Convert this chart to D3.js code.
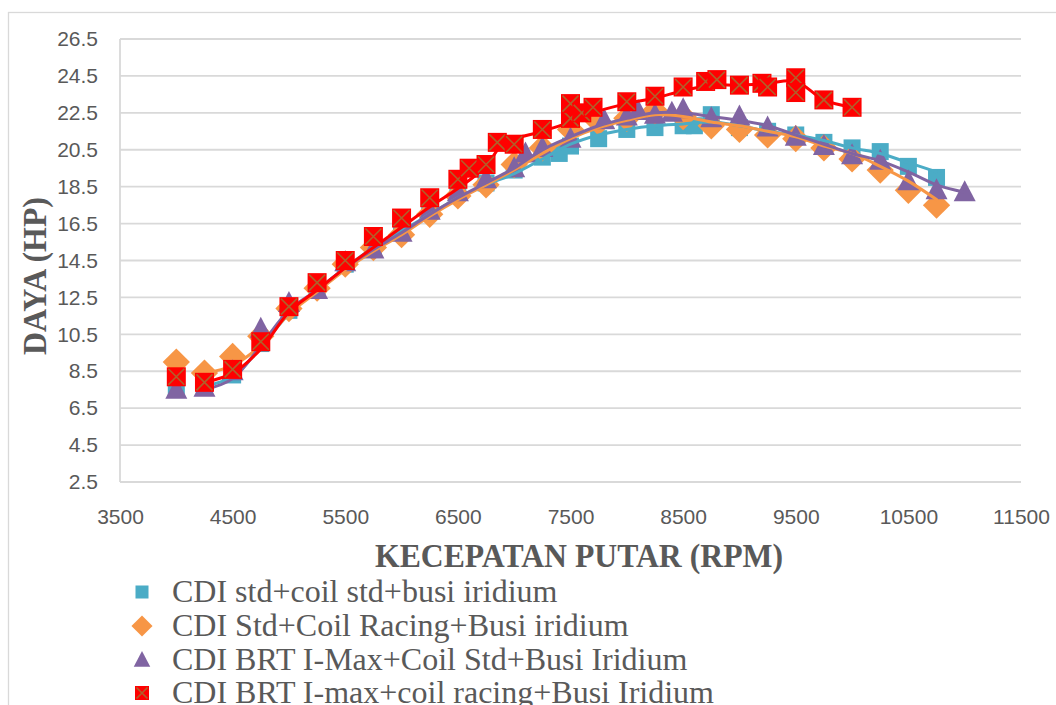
<!DOCTYPE html>
<html>
<head>
<meta charset="utf-8">
<script src="https://cdn.jsdelivr.net/npm/d3@7"></script>
<style>
  html, body { margin: 0; padding: 0; background: #ffffff; }
  svg { display: block; }
</style>
</head>
<body>
<svg id="chart" width="1056" height="705"></svg>
<script>
// Axis ticks
const xTicks = [3500, 4500, 5500, 6500, 7500, 8500, 9500, 10500, 11500];
const yTicks = [2.5, 4.5, 6.5, 8.5, 10.5, 12.5, 14.5, 16.5, 18.5, 20.5, 22.5, 24.5, 26.5];

// Series names
const seriesNames = [
  "CDI std+coil std+busi iridium",
  "CDI Std+Coil Racing+Busi iridium",
  "CDI BRT I-Max+Coil Std+Busi Iridium",
  "CDI BRT I-max+coil racing+Busi Iridium"
];

// Measured points (rpm, HP)
const rpmStd = [4000,4250,4500,4750,5000,5250,5500,5750,6000,6250,6500,6750,7000,7250,7400,7500,7750,8000,8250,8500,8600,8750,9000,9250,9500,9750,10000,10250,10500,10750];
const hpStd  = [7.6,7.8,8.3,10.0,11.8,13.1,14.3,15.3,16.1,17.2,18.2,18.7,19.4,20.1,20.3,20.7,21.1,21.6,21.7,21.8,21.8,22.4,21.7,21.5,21.3,20.9,20.6,20.4,19.6,19.0];

const rpmCoilRacing = [4000,4250,4500,4750,5000,5250,5500,5750,6000,6250,6500,6750,7000,7250,7500,7750,8000,8250,8500,8750,9000,9250,9500,9750,10000,10250,10500,10750];
const hpCoilRacing  = [9.0,8.4,9.3,10.4,11.9,13.0,14.3,15.2,15.9,17.0,18.0,18.6,19.7,20.6,21.6,22.0,22.2,22.6,22.3,21.8,21.6,21.3,21.1,20.6,20.0,19.4,18.3,17.5];

const rpmBrt = [4000,4250,4500,4750,5000,5250,5500,5750,6000,6250,6500,6750,7000,7100,7250,7500,7800,8000,8100,8250,8400,8500,8750,9000,9250,9500,9750,10000,10250,10500,10750,11000];
const hpBrt  = [7.5,7.6,8.5,10.8,12.2,12.9,14.4,15.1,16.0,17.2,18.2,18.9,19.5,20.3,20.6,21.1,22.1,22.3,22.6,22.4,22.5,22.7,22.2,22.3,21.7,21.2,20.7,20.2,19.9,18.8,18.3,18.2];

const rpmBrtRacing = [4000,4250,4500,4750,5000,5250,5500,5750,6000,6250,6500,6600,6750,6850,7000,7250,7500,7500,7600,7700,8000,8250,8500,8700,8800,9000,9200,9250,9500,9500,9750,10000];
const hpBrtRacing  = [8.2,7.9,8.6,10.1,12.0,13.3,14.5,15.8,16.8,17.9,18.9,19.5,19.7,20.9,20.8,21.6,22.2,23.0,22.5,22.8,23.1,23.4,23.9,24.2,24.3,24.0,24.1,23.9,24.4,23.6,23.2,22.8];

// Smoothed trend lines (rpm, HP)
const rpmStdLine = [4250,4500,4750,5000,5250,5500,5750,6000,6250,6500,6750,7000,7250,7500,7750,8000,8250,8500,8750,9000,9250,9500,9750,10000,10250,10500,10750];
const hpStdLine  = [7.7,8.2,9.8,11.6,12.9,14.1,15.2,16.1,17.0,17.9,18.6,19.2,20.0,20.8,21.3,21.6,21.8,21.9,22.0,21.8,21.5,21.3,21.0,20.6,20.3,19.8,19.3];

const rpmCoilRacingLine = [4250,4500,4750,5000,5250,5500,5750,6000,6250,6500,6750,7000,7250,7500,7750,8000,8250,8500,8750,9000,9250,9500,9750,10000,10250,10500,10750];
const hpCoilRacingLine  = [8.4,8.8,9.9,11.6,12.8,14.0,15.0,15.9,16.9,17.8,18.6,19.4,20.3,21.1,21.7,22.1,22.4,22.3,22.0,21.8,21.5,21.2,20.7,20.3,19.6,18.8,17.8];

const rpmBrtLine = [4250,4500,4750,5000,5250,5500,5750,6000,6250,6500,6750,7000,7250,7500,7750,8000,8250,8500,8750,9000,9250,9500,9750,10000,10250,10500,10750,11000];
const hpBrtLine  = [7.5,8.1,9.9,11.8,12.9,14.1,15.1,16.0,17.0,17.9,18.7,19.5,20.5,21.2,21.8,22.2,22.5,22.5,22.3,22.1,21.8,21.3,20.8,20.3,19.9,19.3,18.6,18.2];

const rpmBrtRacingLine = [4250,4500,4750,5000,5250,5500,5750,6000,6250,6500,6750,6900,7250,7500,7750,8000,8250,8500,8750,9000,9250,9500,9750,10000];
const hpBrtRacingLine  = [7.9,8.4,9.7,11.7,12.9,14.1,15.2,16.3,17.4,18.4,19.6,20.8,21.5,22.0,22.6,23.0,23.3,23.7,24.0,24.0,24.1,24.2,23.2,22.8];

const colors = ["#4bacc6", "#f79646", "#8064a2", "#ff0000"];
const crossColor = "#b0602a";
const textColor = "#595959";
const gridColor = "#d9d9d9";

const zip = (a, b) => a.map((v, i) => ({ x: v, y: b[i] }));

const series = [
  { pts: zip(rpmStd, hpStd), line: zip(rpmStdLine, hpStdLine), shape: "square" },
  { pts: zip(rpmCoilRacing, hpCoilRacing), line: zip(rpmCoilRacingLine, hpCoilRacingLine), shape: "diamond" },
  { pts: zip(rpmBrt, hpBrt), line: zip(rpmBrtLine, hpBrtLine), shape: "triangle" },
  { pts: zip(rpmBrtRacing, hpBrtRacing), line: zip(rpmBrtRacingLine, hpBrtRacingLine), shape: "xsquare" }
];

const svg = d3.select("#chart");

// Outer chart frame
svg.append("rect")
  .attr("x", 8.5).attr("y", 12.5)
  .attr("width", 1100).attr("height", 720)
  .attr("fill", "none").attr("stroke", gridColor).attr("stroke-width", 1.3);

const x = d3.scaleLinear().domain([3500, 11500]).range([120, 1021]);
const y = d3.scaleLinear().domain([2.5, 26.5]).range([482, 39]);

// Horizontal gridlines
svg.append("g").selectAll("line")
  .data(yTicks)
  .join("line")
  .attr("x1", x(3500)).attr("x2", x(11500))
  .attr("y1", d => y(d)).attr("y2", d => y(d))
  .attr("stroke", gridColor).attr("stroke-width", 1.8);

// Left axis line
svg.append("line")
  .attr("x1", x(3500)).attr("x2", x(3500))
  .attr("y1", y(26.5)).attr("y2", y(2.5))
  .attr("stroke", gridColor).attr("stroke-width", 1.8);

const tickFont = "'Liberation Sans', Arial, sans-serif";

// Y tick labels
const yAxis = d3.axisLeft(y).tickValues(yTicks).tickFormat(d3.format(".1f")).tickSize(0).tickPadding(22);
const gy = svg.append("g").attr("transform", `translate(${x(3500)},0)`).call(yAxis);
gy.select(".domain").remove();
gy.selectAll("text")
  .attr("fill", textColor)
  .style("font-family", tickFont)
  .style("font-size", "21px");

// X tick labels
const xAxis = d3.axisBottom(x).tickValues(xTicks).tickFormat(d3.format("d")).tickSize(0).tickPadding(27);
const gx = svg.append("g").attr("transform", `translate(0,${y(2.5)})`).call(xAxis);
gx.select(".domain").remove();
gx.selectAll("text")
  .attr("fill", textColor)
  .style("font-family", tickFont)
  .style("font-size", "21px");

// Axis titles
svg.append("text")
  .attr("x", 579).attr("y", 567)
  .attr("text-anchor", "middle")
  .attr("fill", textColor)
  .attr("textLength", 408)
  .attr("lengthAdjust", "spacingAndGlyphs")
  .style("font-family", "'Liberation Serif', 'Times New Roman', serif")
  .style("font-weight", "bold")
  .style("font-size", "34px")
  .text("KECEPATAN PUTAR (RPM)");

svg.append("text")
  .attr("transform", "translate(46,276) rotate(-90)")
  .attr("text-anchor", "middle")
  .attr("fill", textColor)
  .attr("textLength", 158)
  .attr("lengthAdjust", "spacingAndGlyphs")
  .style("font-family", "'Liberation Serif', 'Times New Roman', serif")
  .style("font-weight", "bold")
  .style("font-size", "34px")
  .text("DAYA (HP)");

// Marker drawing
function drawMarker(g, shape, color, cx, cy, s) {
  if (shape === "square") {
    g.append("rect").attr("x", cx - s / 2).attr("y", cy - s / 2)
      .attr("width", s).attr("height", s).attr("fill", color);
  } else if (shape === "diamond") {
    const h = s * 0.62;
    g.append("path")
      .attr("d", `M${cx},${cy - h}L${cx + h},${cy}L${cx},${cy + h}L${cx - h},${cy}Z`)
      .attr("fill", color);
  } else if (shape === "triangle") {
    const w = s * 0.55, t = s * 0.6, b = s * 0.45;
    g.append("path")
      .attr("d", `M${cx},${cy - t}L${cx + w},${cy + b}L${cx - w},${cy + b}Z`)
      .attr("fill", color);
  } else {
    g.append("rect").attr("x", cx - s / 2).attr("y", cy - s / 2)
      .attr("width", s).attr("height", s).attr("fill", color);
    const k = s / 2 - 1.5;
    g.append("path")
      .attr("d", `M${cx - k},${cy - k}L${cx + k},${cy + k}M${cx + k},${cy - k}L${cx - k},${cy + k}`)
      .attr("stroke", crossColor).attr("stroke-width", 1.6).attr("fill", "none");
  }
}

const markerSize = [17, 22, 20, 19];

const lineGen = d3.line()
  .x(d => x(d.x)).y(d => y(d.y))
  .curve(d3.curveCatmullRom.alpha(0.5));

const plot = svg.append("g");

// Markers of the first three series
series.slice(0, 3).forEach((s, i) => {
  const g = plot.append("g");
  s.pts.forEach(p => drawMarker(g, s.shape, colors[i], x(p.x), y(p.y), markerSize[i]));
});

// Trend lines
series.forEach((s, i) => {
  plot.append("path")
    .datum(s.line)
    .attr("d", lineGen)
    .attr("fill", "none")
    .attr("stroke", colors[i])
    .attr("stroke-width", 3)
    .attr("stroke-linejoin", "round")
    .attr("stroke-linecap", "round");
});

// Markers of the last series on top
{
  const g = plot.append("g");
  series[3].pts.forEach(p => drawMarker(g, series[3].shape, colors[3], x(p.x), y(p.y), markerSize[3]));
}

// Legend
const legendY = [592, 626, 660, 693];
const legendSize = [13, 17, 15, 14];
const lg = svg.append("g");
seriesNames.forEach((name, i) => {
  drawMarker(lg, series[i].shape, colors[i], 142, legendY[i], legendSize[i]);
  lg.append("text")
    .attr("x", 172).attr("y", legendY[i] + 10)
    .attr("fill", textColor)
    .style("font-family", "'Liberation Serif', 'Times New Roman', serif")
    .style("font-size", "32px")
    .text(name);
});
</script>
</body>
</html>
